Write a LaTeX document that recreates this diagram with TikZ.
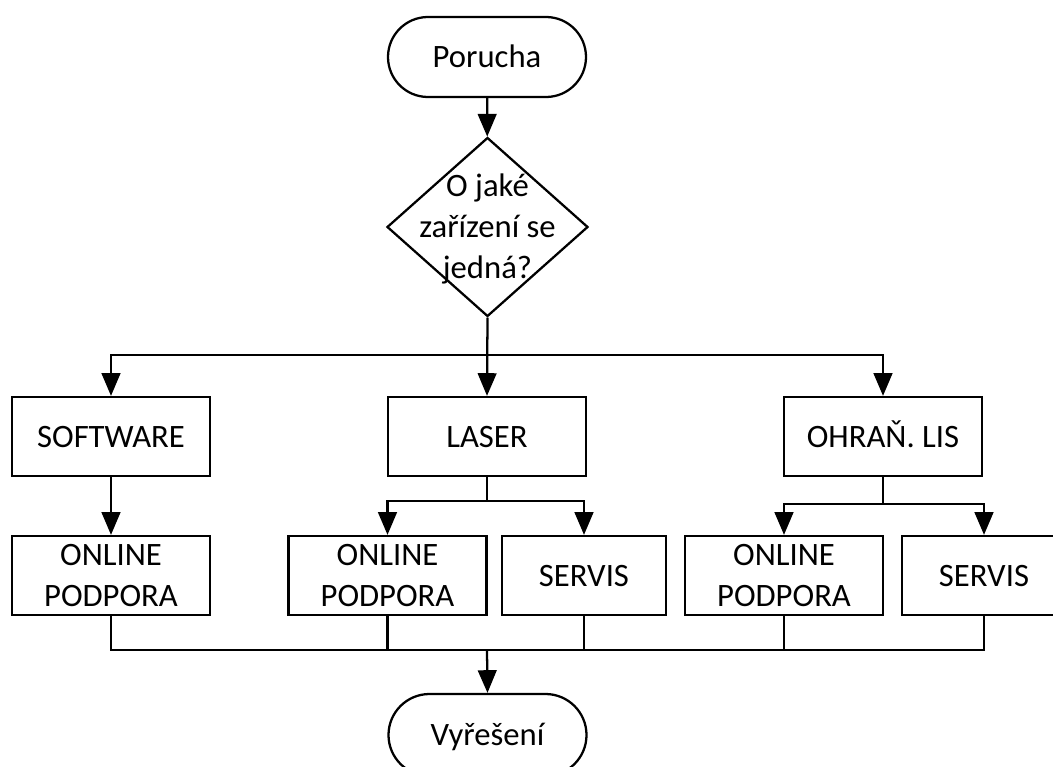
\documentclass[tikz,border=0pt]{standalone}
\usepackage{fontspec}
\setmainfont{Carlito}
\usetikzlibrary{shapes.geometric,shapes.misc,arrows.meta}
\begin{document}
\begin{tikzpicture}[x=0.75pt,y=-0.75pt,
  every node/.style={font=\fontsize{24.5}{30.5}\selectfont, align=center, inner sep=0pt},
  one/.style={text height=15.8pt, text depth=0pt},
  ln/.style={line width=1.7pt, draw=black},
  arr/.style={ln, -{Triangle[length=17pt,width=14pt]}},
  term/.style={ln, draw, rounded rectangle, minimum width=148.5pt, minimum height=60pt, one},
  proc/.style={ln, draw, rectangle, minimum width=148.5pt, minimum height=59.25pt},
  procs/.style={proc, minimum width=123pt},
  decision/.style={ln, draw, diamond, minimum width=150.75pt, minimum height=134.25pt}
]
\useasboundingbox (0,0) rectangle (1053,767);

\node[term] (start) at (487,57) {Porucha};
\node[decision] (qd) at (487.5,227) {};
\node (q) at (487.5,229) {O jaké\\zařízení se\\jedná?};

\node[proc, one] (soft) at (111,436.5) {SOFTWARE};
\node[proc, one] (laser) at (487,436.5) {LASER};
\node[proc, one] (ohran) at (883,436.5) {OHRAŇ. LIS};

\node[proc] (on1) at (111,575.5) {ONLINE\\PODPORA};
\node[proc] (on2) at (387.5,575.5) {ONLINE\\PODPORA};
\node[procs, one] (sv1) at (584,575.5) {SERVIS};
\node[proc] (on3) at (784,575.5) {ONLINE\\PODPORA};
\node[procs, one] (sv2) at (984,575.5) {SERVIS};

\node[term, minimum height=61.5pt] (end) at (487.5,735) {Vyřešení};

\coordinate (b1) at (487,355);
\coordinate (ls) at (487,501);
\coordinate (os) at (883,504);
\coordinate (m) at (487,650);

\draw[arr] (start) -- (qd);
\draw[arr] (qd.south) -- (laser.north);
\draw[arr] (b1) -| (soft.north);
\draw[arr] (b1) -| (ohran.north);
\draw[arr] (soft) -- (on1);

\draw[ln] (laser.south) -- (ls);
\draw[arr] (ls) -| (on2.north);
\draw[arr] (ls) -| (sv1.north);

\draw[ln] (ohran.south) -- (os);
\draw[arr] (os) -| (on3.north);
\draw[arr] (os) -| (sv2.north);

\draw[ln] (on1.south) |- (m) -| (sv2.south);
\draw[ln] (on2.south) -- (on2.south |- m);
\draw[ln] (sv1.south) -- (sv1.south |- m);
\draw[ln] (on3.south) -- (on3.south |- m);
\draw[arr] (m) -- (end.north);
\end{tikzpicture}
\end{document}
